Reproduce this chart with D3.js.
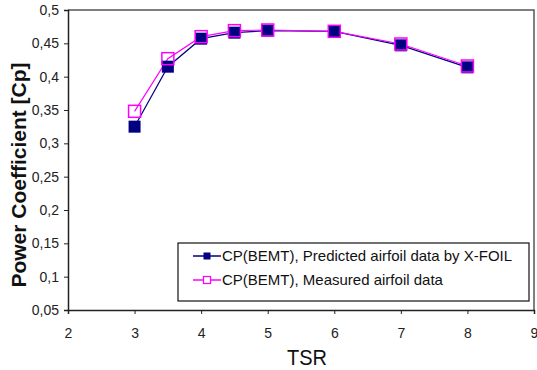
<!DOCTYPE html>
<html>
<head>
<meta charset="utf-8">
<script src="https://cdn.jsdelivr.net/npm/d3@7"></script>
<style>
  body { margin: 0; background: #fff; }
  text { font-family: Arial, "Liberation Sans", sans-serif; }
</style>
</head>
<body>
<div id="chart"></div>
<script>
const tsr = [3, 3.5, 4, 4.5, 5, 6, 7, 8];
const cpPredicted = [0.325, 0.415, 0.457, 0.466, 0.469, 0.468, 0.447, 0.414];
const cpMeasured = [0.348, 0.427, 0.460, 0.469, 0.470, 0.468, 0.449, 0.416];
const xTicks = [2, 3, 4, 5, 6, 7, 8, 9];
const yTicks = [0.05, 0.1, 0.15, 0.2, 0.25, 0.3, 0.35, 0.4, 0.45, 0.5];
const seriesNames = ['CP(BEMT), Predicted airfoil data by X-FOIL', 'CP(BEMT), Measured airfoil data'];

const width = 537, height = 370;
const plotLeft = 68, plotRight = 534, plotTop = 10, plotBottom = 310;

const svg = d3.select('#chart').append('svg')
  .attr('width', width)
  .attr('height', height);

const x = d3.scaleLinear().domain([2, 9]).range([plotLeft, plotRight]);
const y = d3.scaleLinear().domain([0.05, 0.5]).range([plotBottom, plotTop]);

// frame (top and right)
svg.append('path')
  .attr('d', `M${plotLeft},${plotTop}H${plotRight}V${plotBottom}`)
  .attr('fill', 'none')
  .attr('stroke', '#555')
  .attr('stroke-width', 1.5);

const fmt = d => String(d).replace('.', ',');

// x axis
svg.append('g')
  .attr('transform', 'translate(0,' + plotBottom + ')')
  .call(d3.axisBottom(x).tickValues(xTicks).tickSize(4).tickPadding(14).tickFormat(fmt))
  .call(g => g.select('.domain').attr('stroke', '#222').attr('stroke-width', 1.5))
  .call(g => g.selectAll('.tick line').attr('stroke', '#222'))
  .call(g => g.selectAll('.tick text').attr('fill', '#222').style('font-size', '14px')
    .style('font-family', 'Arial, "Liberation Sans", sans-serif'));

// y axis
svg.append('g')
  .attr('transform', 'translate(' + plotLeft + ',0)')
  .call(d3.axisLeft(y).tickValues(yTicks).tickSize(4).tickPadding(5).tickFormat(fmt))
  .call(g => g.select('.domain').attr('stroke', '#222').attr('stroke-width', 1.5))
  .call(g => g.selectAll('.tick line').attr('stroke', '#222'))
  .call(g => g.selectAll('.tick text').attr('fill', '#222').style('font-size', '14px')
    .style('font-family', 'Arial, "Liberation Sans", sans-serif'));

// axis titles
svg.append('text')
  .attr('x', 307)
  .attr('y', 365)
  .attr('text-anchor', 'middle')
  .style('font-size', '22px')
  .attr('textLength', 40)
  .attr('lengthAdjust', 'spacingAndGlyphs')
  .attr('fill', '#111')
  .text('TSR');

svg.append('text')
  .attr('transform', 'translate(26,' + 175 + ') rotate(-90)')
  .attr('text-anchor', 'middle')
  .style('font-size', '21px')
  .style('font-weight', 'bold')
  .attr('fill', '#111')
  .text('Power Coefficient [Cp]');

const line = d3.line()
  .x(d => x(d[0]))
  .y(d => y(d[1]));

const predicted = tsr.map((t, i) => [t, cpPredicted[i]]);
const measured = tsr.map((t, i) => [t, cpMeasured[i]]);

// predicted series
svg.append('path')
  .attr('d', line(predicted))
  .attr('fill', 'none')
  .attr('stroke', '#000080')
  .attr('stroke-width', 1.2);

// measured series line
svg.append('path')
  .attr('d', line(measured))
  .attr('fill', 'none')
  .attr('stroke', '#ff00ff')
  .attr('stroke-width', 1.2);

svg.selectAll('.pred-marker')
  .data(predicted)
  .join('rect')
  .attr('class', 'pred-marker')
  .attr('x', d => x(d[0]) - 6)
  .attr('y', d => y(d[1]) - 6)
  .attr('width', 12)
  .attr('height', 12)
  .attr('fill', '#000080');

svg.selectAll('.meas-marker')
  .data(measured)
  .join('rect')
  .attr('class', 'meas-marker')
  .attr('x', d => x(d[0]) - 6)
  .attr('y', d => y(d[1]) - 6)
  .attr('width', 12)
  .attr('height', 12)
  .attr('fill', 'none')
  .attr('stroke', '#ff00ff')
  .attr('stroke-width', 1.5);

// legend
const legend = svg.append('g');
legend.append('rect')
  .attr('x', 178)
  .attr('y', 243)
  .attr('width', 351)
  .attr('height', 58)
  .attr('fill', '#fff')
  .attr('stroke', '#111')
  .attr('stroke-width', 1.2);

const legendRows = [
  { name: seriesNames[0], color: '#000080', filled: true, y: 256 },
  { name: seriesNames[1], color: '#ff00ff', filled: false, y: 280 }
];

legendRows.forEach(r => {
  legend.append('line')
    .attr('x1', 193).attr('x2', 221)
    .attr('y1', r.y).attr('y2', r.y)
    .attr('stroke', r.color)
    .attr('stroke-width', 1.5);
  legend.append('rect')
    .attr('x', 207 - 3.5).attr('y', r.y - 3.5)
    .attr('width', 7).attr('height', 7)
    .attr('fill', r.filled ? r.color : '#fff')
    .attr('stroke', r.color)
    .attr('stroke-width', r.filled ? 0 : 1.2);
  legend.append('text')
    .attr('x', 222)
    .attr('y', r.y + 5)
    .style('font-size', '15px')
    .attr('fill', '#111')
    .text(r.name);
});
</script>
</body>
</html>
